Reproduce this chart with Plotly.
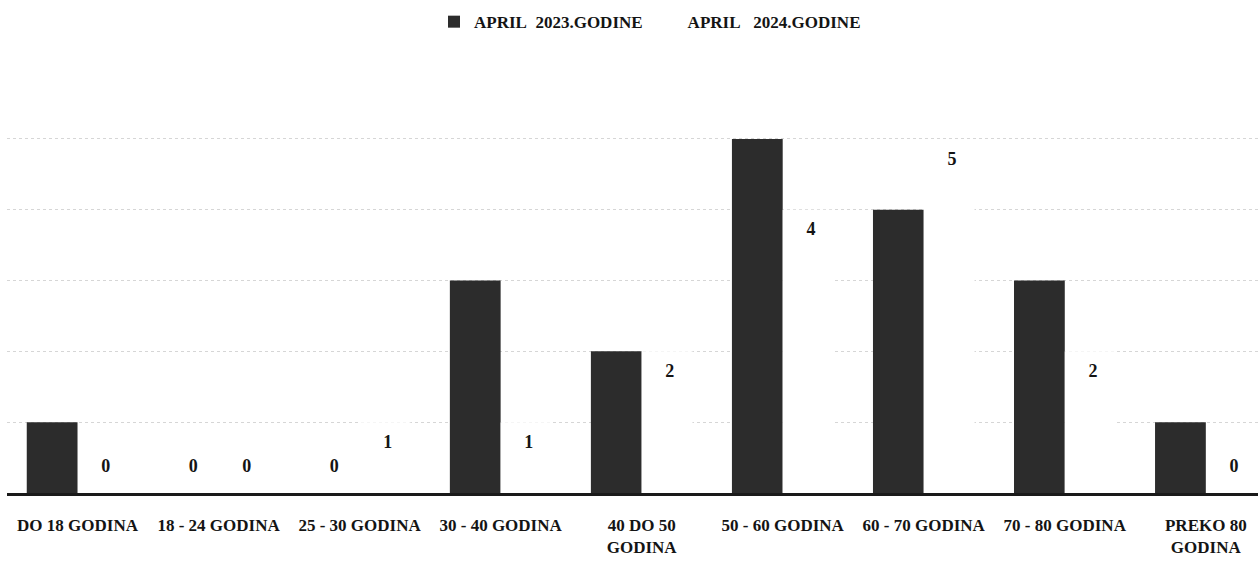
import plotly.graph_objects as go

# Age groups and counts for the two April periods
categories = ["DO 18 GODINA", "18 - 24 GODINA", "25 - 30 GODINA", "30 - 40 GODINA",
              "40 DO 50<br>GODINA", "50 - 60 GODINA", "60 - 70 GODINA", "70 - 80 GODINA",
              "PREKO 80<br>GODINA"]
april_2023 = [1, 0, 0, 3, 2, 5, 4, 3, 1]
april_2024 = [0, 0, 1, 1, 2, 4, 5, 2, 0]
series_names = ["APRIL\u00a0 2023.GODINE", "APRIL\u00a0 \u00a02024.GODINE"]
grid_levels = [1, 2, 3, 4, 5]

BAR_DARK = "#2c2c2c"
TEXT = "#141414"
FONT = "Liberation Serif"
BAR_W = 0.36

pos = list(range(len(categories)))

def label_y(v):
    # value labels sit just inside the top of each bar, zeros just above the axis
    return v - 0.3 if v > 0 else 0.36

fig = go.Figure()

fig.add_trace(go.Bar(
    x=pos, y=april_2023, name=series_names[0],
    offset=-BAR_W, width=BAR_W,
    marker=dict(color=BAR_DARK, line=dict(width=0)),
))
fig.add_trace(go.Bar(
    x=pos, y=april_2024, name=series_names[1],
    offset=0.0, width=BAR_W,
    marker=dict(color="white", line=dict(width=0)),
))

# value labels (the 2023 ones disappear into the dark bars except the zeros)
fig.add_trace(go.Scatter(
    x=[p - BAR_W / 2 for p in pos], y=[label_y(v) for v in april_2023],
    mode="text", text=[str(v) for v in april_2023],
    textfont=dict(family=FONT, size=18, weight="bold",
                  color=[TEXT if v == 0 else BAR_DARK for v in april_2023]),
    showlegend=False, hoverinfo="skip",
))
fig.add_trace(go.Scatter(
    x=[p + BAR_W / 2 + 0.02 for p in pos], y=[label_y(v) for v in april_2024],
    mode="text", text=[str(v) for v in april_2024],
    textfont=dict(family=FONT, size=18, weight="bold", color=TEXT),
    showlegend=False, hoverinfo="skip",
))

fig.update_layout(
    width=1258, height=562,
    margin=dict(l=7, r=0, t=61, b=69),
    paper_bgcolor="white", plot_bgcolor="white",
    barmode="overlay",
    font=dict(family=FONT, color=TEXT),
    legend=dict(
        orientation="h", x=0.514, xanchor="center", y=1.09, yanchor="middle",
        font=dict(family=FONT, size=17, color=TEXT, weight="bold"),
        itemwidth=30, traceorder="normal",
    ),
    xaxis=dict(
        range=[-0.5, 8.37], tickmode="array", tickvals=pos, ticktext=categories,
        tickfont=dict(family=FONT, size=17, color=TEXT, weight="bold"),
        showgrid=False, zeroline=False, showline=True, linecolor="#1a1a1a", linewidth=2.5,
        ticks="", ticklabelstandoff=15, fixedrange=True,
    ),
    yaxis=dict(
        range=[0, 6.1], tickmode="array", tickvals=grid_levels,
        showticklabels=False, ticks="",
        showgrid=True, gridcolor="#d6d6d6", gridwidth=1, griddash="dot",
        zeroline=False, showline=False, fixedrange=True,
    ),
)

fig.write_html("out.html")
